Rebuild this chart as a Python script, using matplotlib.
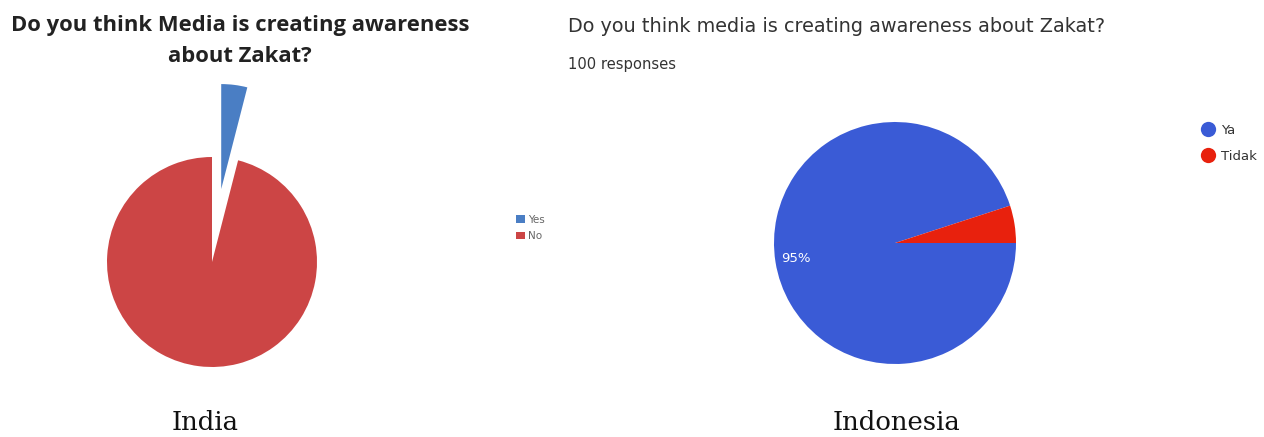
import matplotlib
matplotlib.use('Agg')
import matplotlib.pyplot as plt
from matplotlib.lines import Line2D
from matplotlib.patches import Patch

# India survey (Excel style chart)
india_labels = ['Yes', 'No']
india_values = [4, 96]
india_colors = ['#4a7ec4', '#cc4545']

# Indonesia survey (Google Forms chart)
indo_labels = ['Ya', 'Tidak']
indo_values = [95, 5]
indo_colors = ['#3a5bd6', '#e8210d']

W, H = 1264, 437
fig = plt.figure(figsize=(W / 100, H / 100), dpi=100)


def px_axes(cx, cy, r, xl, yl):
    # axes placed so that a unit radius pie is r pixels at (cx, cy) from top-left
    left = cx + xl[0] * r
    bottom = (H - cy) + yl[0] * r
    w = (xl[1] - xl[0]) * r
    h = (yl[1] - yl[0]) * r
    ax = fig.add_axes([left / W, bottom / H, w / W, h / H])
    ax.set_xlim(*xl)
    ax.set_ylim(*yl)
    ax.set_aspect('equal')
    ax.axis('off')
    return ax


# ---- India ----
ax1 = px_axes(212, 262, 105, (-1.5, 1.5), (-1.5, 1.8))
ax1.pie(india_values, colors=india_colors, startangle=90, counterclock=False,
        explode=[0.7, 0], radius=1, frame=True)
ax1.set_xlim(-1.5, 1.5)
ax1.set_ylim(-1.5, 1.8)
ax1.axis('off')

fig.text(240 / W, 1 - 25 / H, 'Do you think Media is creating awareness',
         ha='center', va='center', fontsize=15.8, fontweight='bold',
         family='Open Sans', color='#222222')
fig.text(240 / W, 1 - 57 / H, 'about Zakat?',
         ha='center', va='center', fontsize=15.8, fontweight='bold',
         family='Open Sans', color='#222222')

handles1 = [Patch(facecolor=c, edgecolor='none') for c in india_colors]
leg1 = fig.legend(handles1, india_labels, loc='center left',
                  bbox_to_anchor=(507 / W, 1 - 228 / H), frameon=False,
                  fontsize=7.5, handlelength=0.8, handleheight=0.8,
                  handletextpad=0.3, labelspacing=0.6, labelcolor='#666666')

fig.text(205 / W, 1 - 423 / H, 'India', ha='center', va='center',
         fontsize=18.6, family='DejaVu Serif', color='#111111')

# ---- Indonesia ----
ax2 = px_axes(895, 243, 121, (-1.1, 1.1), (-1.1, 1.1))
ax2.pie(indo_values, colors=indo_colors, startangle=0, counterclock=False,
        radius=1, frame=True, autopct=lambda p: '%d%%' % round(p) if p > 50 else '',
        pctdistance=0.83,
        textprops=dict(color='white', fontsize=9.5, family='DejaVu Sans'))
ax2.set_xlim(-1.1, 1.1)
ax2.set_ylim(-1.1, 1.1)
ax2.axis('off')

fig.text(568 / W, 1 - 26 / H, 'Do you think media is creating awareness about Zakat?',
         ha='left', va='center', fontsize=13.9, family='DejaVu Sans', color='#333333')
fig.text(568 / W, 1 - 65 / H, '100 responses', ha='left', va='center',
         fontsize=10.6, family='DejaVu Sans', color='#333333')

handles2 = [Line2D([0], [0], marker='o', linestyle='none', markersize=11,
                   markerfacecolor=c, markeredgecolor='none') for c in indo_colors]
fig.legend(handles2, indo_labels, loc='upper left',
           bbox_to_anchor=(1190 / W, 1 - 112 / H), frameon=False,
           handlelength=1.0, handletextpad=0.45, labelspacing=1.0,
           labelcolor='#333333', prop=dict(family='DejaVu Sans', size=9.5))

fig.text(897 / W, 1 - 422 / H, 'Indonesia', ha='center', va='center',
         fontsize=18.6, family='DejaVu Serif', color='#111111')

fig.savefig('out.png', dpi=100)
